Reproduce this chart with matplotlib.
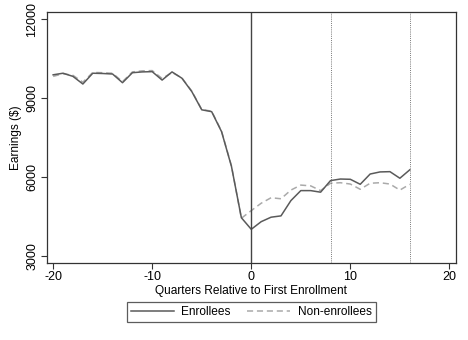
import matplotlib
matplotlib.use("Agg")
import matplotlib.pyplot as plt

plt.rcParams['font.family'] = ['Liberation Sans', 'DejaVu Sans']
plt.rcParams['axes.unicode_minus'] = False

quarters = list(range(-20, 17))
enrollees = [9880, 9940, 9820, 9530, 9940, 9930, 9910, 9580, 9960, 9990, 10000,
             9680, 9990, 9750, 9240, 8550, 8480, 7720, 6400, 4450,
             4010, 4300, 4470, 4520, 5100, 5480, 5480, 5420, 5860, 5920, 5910,
             5720, 6110, 6190, 6200, 5950, 6270]
non_enrollees = [9820, 9920, 9860, 9600, 9970, 9960, 9940, 9620, 9990, 10030, 10040,
                 9740, 9970, 9760, 9260, 8560, 8500, 7740, 6420, 4430,
                 4720, 5000, 5210, 5170, 5500, 5690, 5660, 5480, 5760, 5780, 5730,
                 5530, 5760, 5780, 5730, 5500, 5720]
xticks = [-20, -10, 0, 10, 20]
yticks = [3000, 6000, 9000, 12000]

fig = plt.figure(figsize=(4.68, 3.40), dpi=100)
ax = fig.add_axes([0.0998, 0.2265, 0.8742, 0.7385])

ax.plot(quarters, non_enrollees, color='#aaaaaa', linestyle=(0, (4, 2.5)), linewidth=1.1, label='Non-enrollees')
ax.plot(quarters, enrollees, color='#5a5a5a', linewidth=1.1, label='Enrollees')

ax.axvline(0, color='#444444', linewidth=1.0)
ax.axvline(8, color='#777777', linewidth=0.7, linestyle=(0, (1, 1.2)))
ax.axvline(16, color='#777777', linewidth=0.7, linestyle=(0, (1, 1.2)))

ax.set_xlim(-20.65, 20.65)
ax.set_ylim(2730, 12270)
ax.set_xticks(xticks)
ax.set_yticks(yticks)
ax.set_yticklabels([str(v) for v in yticks], rotation=90, va='center')
ax.tick_params(axis='both', labelsize=9, length=4, width=0.8, color='#333333', pad=2)
ax.set_xlabel("Quarters Relative to First Enrollment", fontsize=8.6, labelpad=1)
ax.set_ylabel("Earnings ($)", fontsize=8.6, labelpad=3)
for s in ax.spines.values():
    s.set_color('#333333')
    s.set_linewidth(0.9)

h, l = ax.get_legend_handles_labels()
leg = ax.legend(h[::-1], l[::-1], loc='upper center', bbox_to_anchor=(0.5, -0.155), ncol=2,
                fontsize=8.6, frameon=True, fancybox=False, edgecolor='#333333',
                handlelength=3.6, handletextpad=0.6, columnspacing=1.4,
                borderpad=0.35, borderaxespad=0)
leg.get_frame().set_linewidth(0.9)

fig.savefig("out.png", dpi=100)
